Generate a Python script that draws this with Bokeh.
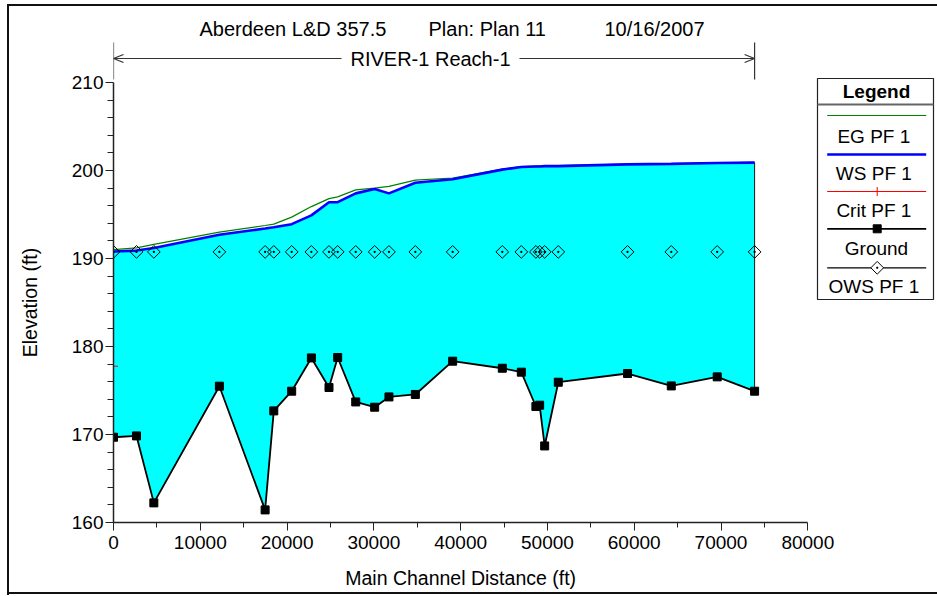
import math
from bokeh.plotting import figure
from bokeh.models import Range1d, LinearAxis, FixedTicker
from bokeh.core.properties import value
from bokeh.embed import file_html
from bokeh.resources import INLINE

# ---------------- data ----------------
station = [0, 2650, 4650, 12200, 17470, 18470, 20530, 22800, 24830, 25830,
           27910, 30090, 31740, 34780, 39080, 44800, 46990, 48670, 49100, 49680,
           51250, 59230, 64270, 69560, 73870]
ground = [169.69, 169.84, 162.23, 175.49, 161.43, 172.68, 174.92, 178.70, 175.34, 178.75,
          173.70, 173.10, 174.27, 174.55, 178.33, 177.53, 177.08, 173.18, 173.33, 168.70,
          175.94, 176.93, 175.52, 176.55, 174.92]
ws_pf1 = [190.80, 190.90, 191.20, 192.70, 193.40, 193.55, 193.90, 194.90, 196.40, 196.40,
          197.40, 197.90, 197.40, 198.60, 199.00, 200.10, 200.40, 200.45, 200.45, 200.50,
          200.50, 200.70, 200.75, 200.85, 200.90]
eg_pf1 = [191.00, 191.20, 191.60, 193.00, 193.75, 193.90, 194.70, 195.90, 196.80, 197.00,
          197.80, 198.00, 198.20, 198.90, 199.15, 200.15, 200.45, 200.50, 200.50, 200.55,
          200.55, 200.72, 200.78, 200.88, 200.92]
ows_pf1 = [190.75, 190.75, 190.75, 190.75, 190.75, 190.75, 190.75, 190.75, 190.75, 190.75,
           190.75, 190.75, 190.75, 190.75, 190.75, 190.75, 190.75, 190.75, 190.75, 190.75,
           190.75, 190.75, 190.75, 190.75, 190.75]
crit_x = [0]
crit_y = [177.76]

x_ticks = [0, 10000, 20000, 30000, 40000, 50000, 60000, 70000, 80000]
x_minor = [5000, 15000, 25000, 35000, 45000, 55000, 65000, 75000]
y_ticks = [160, 170, 180, 190, 200, 210]
y_minor = [162, 164, 166, 168, 172, 174, 176, 178, 182, 184, 186, 188,
           192, 194, 196, 198, 202, 204, 206, 208]

title_parts = ["Aberdeen L&D 357.5", "Plan: Plan 11", "10/16/2007"]
reach_name = "RIVER-1 Reach-1"
legend_title = "Legend"
legend_labels = ["EG  PF 1", "WS  PF 1", "Crit  PF 1", "Ground", "OWS  PF 1"]
x_label = "Main Channel Distance (ft)"
y_label = "Elevation (ft)"

# ---------------- layout geometry ----------------
W, H = 937, 596
FL, FB = 113, 522            # frame left / bottom in pixels
X_PX_END = 807.3             # pixel of x = 80000
Y_PX_TOP = 82                # pixel of y = 210
x_px = (X_PX_END - FL) / (x_ticks[-1] - x_ticks[0])
y_px = (FB - Y_PX_TOP) / (y_ticks[-1] - y_ticks[0])
x_end = x_ticks[0] + (W - FL) / x_px
y_end = y_ticks[0] + FB / y_px


def dx(px):
    return x_ticks[0] + (px - FL) / x_px


def dy(py):
    return y_ticks[0] + (FB - py) / y_px


FONT = "Liberation Sans"
TICK_FS = "19px"
LABEL_FS = "19.5px"

# outer frame of the picture drawn as a page background behind a transparent canvas
page_styles = {
    "background-color": "white",
    "background-image": "linear-gradient(#111111, #111111), linear-gradient(#111111, #111111), "
                        "linear-gradient(#111111, #111111)",
    "background-size": "2px 590px, 940px 2px, 940px 2px",
    "background-position": "7px 5px, 7px 4px, 7px 592px",
    "background-repeat": "no-repeat",
}

p = figure(width=W, height=H, x_range=Range1d(x_ticks[0], x_end),
           y_range=Range1d(y_ticks[0], y_end), output_backend="svg",
           toolbar_location=None, x_axis_type=None, y_axis_type=None,
           min_border_left=FL, min_border_right=0, min_border_top=0,
           min_border_bottom=H - FB, styles=page_styles)
p.title.visible = False
p.outline_line_color = None
p.background_fill_color = None
p.border_fill_color = None

xaxis = LinearAxis(bounds=(x_ticks[0], x_ticks[-1]),
                   ticker=FixedTicker(ticks=x_ticks, minor_ticks=x_minor))
yaxis = LinearAxis(bounds=(y_ticks[0], y_ticks[-1]),
                   ticker=FixedTicker(ticks=y_ticks, minor_ticks=y_minor))
for ax in (xaxis, yaxis):
    ax.axis_line_color = "#222222"
    ax.axis_line_width = 1.5
    ax.major_tick_line_color = "#222222"
    ax.minor_tick_line_color = "#222222"
    ax.major_tick_in = 0
    ax.minor_tick_in = 0
    ax.major_tick_out = 8
    ax.major_label_text_font = FONT
    ax.major_label_text_font_size = TICK_FS
    ax.major_label_text_color = "black"
xaxis.minor_tick_out = 5
yaxis.minor_tick_out = 6
xaxis.major_label_standoff = 5
yaxis.major_label_standoff = 2
p.add_layout(xaxis, "below")
p.add_layout(yaxis, "left")

# axis titles: centred on the drawn axis extent (not on the wider frame)
x_mid = (x_ticks[0] + x_ticks[-1]) // 2
y_mid = (y_ticks[0] + y_ticks[-1]) // 2
xtitle = LinearAxis(ticker=FixedTicker(ticks=[x_mid], minor_ticks=[]),
                    major_label_overrides={x_mid: x_label})
ytitle = LinearAxis(ticker=FixedTicker(ticks=[y_mid], minor_ticks=[]),
                    major_label_overrides={y_mid: y_label},
                    major_label_orientation="vertical")
for ax in (xtitle, ytitle):
    ax.axis_line_color = None
    ax.major_tick_line_color = None
    ax.minor_tick_line_color = None
    ax.major_tick_out = 0
    ax.major_tick_in = 0
    ax.minor_tick_out = 0
    ax.minor_tick_in = 0
    ax.major_label_text_font = FONT
    ax.major_label_text_font_size = LABEL_FS
    ax.major_label_text_color = "black"
xtitle.major_label_standoff = 15
ytitle.major_label_standoff = 28
p.add_layout(xtitle, "below")
p.add_layout(ytitle, "left")

# ---------------- data glyphs ----------------
p.varea(x=station, y1=ground, y2=ws_pf1, fill_color="#00FFFF")
p.segment(x0=[station[-1]], y0=[ground[-1]], x1=[station[-1]], y1=[ws_pf1[-1]],
          line_color="#1a1a1a", line_width=1)
p.line(station, eg_pf1, line_color="#008000", line_width=1.2)
p.line(station, ws_pf1, line_color="#0000FF", line_width=2.6)
p.line(station, ground, line_color="black", line_width=1.8)
p.scatter(station, ground, marker="square", size=8, fill_color="black", line_color="black")
p.scatter(station, ows_pf1, marker="square_dot", angle=math.pi / 4, size=9,
          fill_color=None, line_color="black", line_width=1)
p.scatter(crit_x, crit_y, marker="cross", size=9, line_color="red", line_width=1)

# ---------------- title ----------------
title_x = [199, 428, 604]
for t, tx in zip(title_parts, title_x):
    p.text(x=[dx(tx)], y=[dy(28)], text=[t], text_font=value(FONT),
           text_font_size="20px", text_color="black",
           text_align="left", text_baseline="middle")

# ---------------- reach marker ----------------
ry = dy(58)
rx0, rx1 = station[0], station[-1]
rmid = dx(430)
p.text(x=[rmid], y=[ry], text=[reach_name], text_font=value(FONT),
       text_font_size="20px", text_color="black", text_align="center",
       text_baseline="middle")
gap_l, gap_r = dx(341), dx(519)
p.segment(x0=[rx0, gap_r], y0=[ry, ry], x1=[gap_l, rx1], y1=[ry, ry],
          line_color="#333333", line_width=1.2)
p.segment(x0=[rx0, rx1], y0=[dy(42), dy(42)], x1=[rx0, rx1], y1=[dy(79), dy(79)],
          line_color="#333333", line_width=1.2)
ah = 10 / x_px
av = 4 / y_px
p.segment(x0=[rx0, rx0, rx1, rx1], y0=[ry, ry, ry, ry],
          x1=[rx0 + ah, rx0 + ah, rx1 - ah, rx1 - ah],
          y1=[ry + av, ry - av, ry + av, ry - av],
          line_color="#333333", line_width=1.2)

# ---------------- legend ----------------
LL, LR, LT, LB = 817, 933, 78, 299
p.quad(left=[dx(LL)], right=[dx(LR)], top=[dy(LT)], bottom=[dy(LB)],
       fill_color="white", line_color="#222222", line_width=1.2)
p.segment(x0=[dx(LL)], y0=[dy(104)], x1=[dx(LR)], y1=[dy(104)],
          line_color="#666666", line_width=2)
p.text(x=[dx(876)], y=[dy(91)], text=[legend_title], text_font=value(FONT),
       text_font_size="19px", text_font_style="bold", text_color="black",
       text_align="center", text_baseline="middle")
line_y = [115, 154, 191, 228.3, 267.3]
text_y = [136, 172.7, 210, 248.3, 285.7]
line_styles = [("#008000", 1.2), ("#0000FF", 2.6), ("red", 1), ("black", 1.8), ("black", 1.2)]
for (c, w), ly in zip(line_styles, line_y):
    p.segment(x0=[dx(826.7)], y0=[dy(ly)], x1=[dx(925.7)], y1=[dy(ly)],
              line_color=c, line_width=w)
for lab, ty in zip(legend_labels, text_y):
    p.text(x=[dx(876)], y=[dy(ty)], text=[lab], text_font=value(FONT),
           text_font_size="19px", text_color="black", text_align="center",
           text_baseline="middle")
mx = dx(876.7)
p.scatter([mx], [dy(191)], marker="cross", size=9, line_color="red")
p.scatter([mx], [dy(228.3)], marker="square", size=8, fill_color="black", line_color="black")
p.scatter([mx], [dy(267.3)], marker="square_dot", angle=math.pi / 4, size=9,
          fill_color="white", line_color="black")

open("out.html", "w").write(file_html(p, INLINE))
